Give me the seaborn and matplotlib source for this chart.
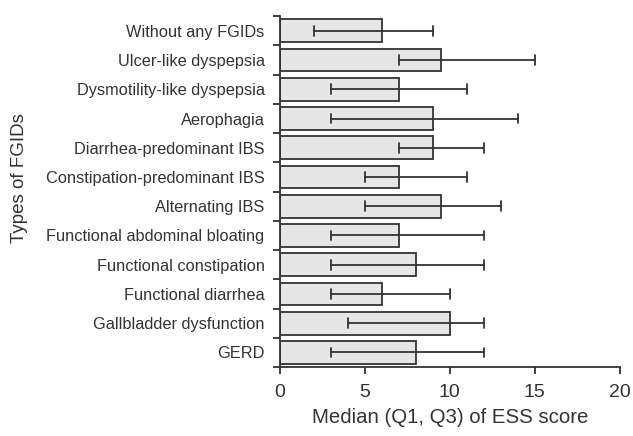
import numpy as np
import pandas as pd
import seaborn as sns
from matplotlib import pyplot as plt

# Median and quartiles of ESS score by FGID type
types = ["Without any FGIDs", "Ulcer-like dyspepsia", "Dysmotility-like dyspepsia",
         "Aerophagia", "Diarrhea-predominant IBS", "Constipation-predominant IBS",
         "Alternating IBS", "Functional abdominal bloating", "Functional constipation",
         "Functional diarrhea", "Gallbladder dysfunction", "GERD"]
median = [6, 9.5, 7, 9, 9, 7, 9.5, 7, 8, 6, 10, 8]
q1 = [2, 7, 3, 3, 7, 5, 5, 3, 3, 3, 4, 3]
q3 = [9, 15, 11, 14, 12, 11, 13, 12, 12, 10, 12, 12]

df = pd.DataFrame({"type": types, "median": median})

sns.set_style("white")
plt.rcParams["font.family"] = ["Liberation Sans", "DejaVu Sans"]
ink = "#333333"

fig = plt.figure(figsize=(6.33, 4.36), dpi=100)
ax = fig.add_axes([0.442, 0.158, 0.537, 0.805])

sns.barplot(data=df, x="median", y="type", color="#e6e6e6", edgecolor=ink,
            linewidth=1.3, width=0.78, saturation=1, ax=ax)
# Q1 - Q3 range as whiskers
for i in range(len(types)):
    ax.plot([q1[i], q3[i]], [i, i], color=ink, lw=1.3)
    for v in (q1[i], q3[i]):
        ax.plot([v, v], [i - 0.17, i + 0.17], color=ink, lw=1.3)

ax.set_xlim(0, 20)
ax.set_ylim(len(types) - 0.5, -0.5)
ax.set_xticks([0, 5, 10, 15, 20])
ax.set_yticks(np.arange(-0.5, len(types), 1))
ax.set_yticklabels([])
ax.set_yticks(range(len(types)), minor=True)
ax.set_yticklabels(types, minor=True)
ax.tick_params(axis="y", which="major", length=5, width=1.3, color=ink, left=True)
ax.tick_params(axis="y", which="minor", length=0, pad=11, labelsize=11.8, labelcolor=ink)
ax.tick_params(axis="x", length=5, width=1.3, color=ink, labelsize=14, labelcolor=ink,
               bottom=True, pad=7)

for s in ["top", "right"]:
    ax.spines[s].set_visible(False)
for s in ["left", "bottom"]:
    ax.spines[s].set_color(ink)
    ax.spines[s].set_linewidth(1.3)

ax.set_xlabel("Median (Q1, Q3) of ESS score", fontsize=14.7, color=ink, labelpad=5)
ax.set_ylabel("Types of FGIDs", fontsize=13.5, color=ink)
ax.yaxis.set_label_coords(-0.741, 0.538)

fig.savefig("out.png", dpi=100)
